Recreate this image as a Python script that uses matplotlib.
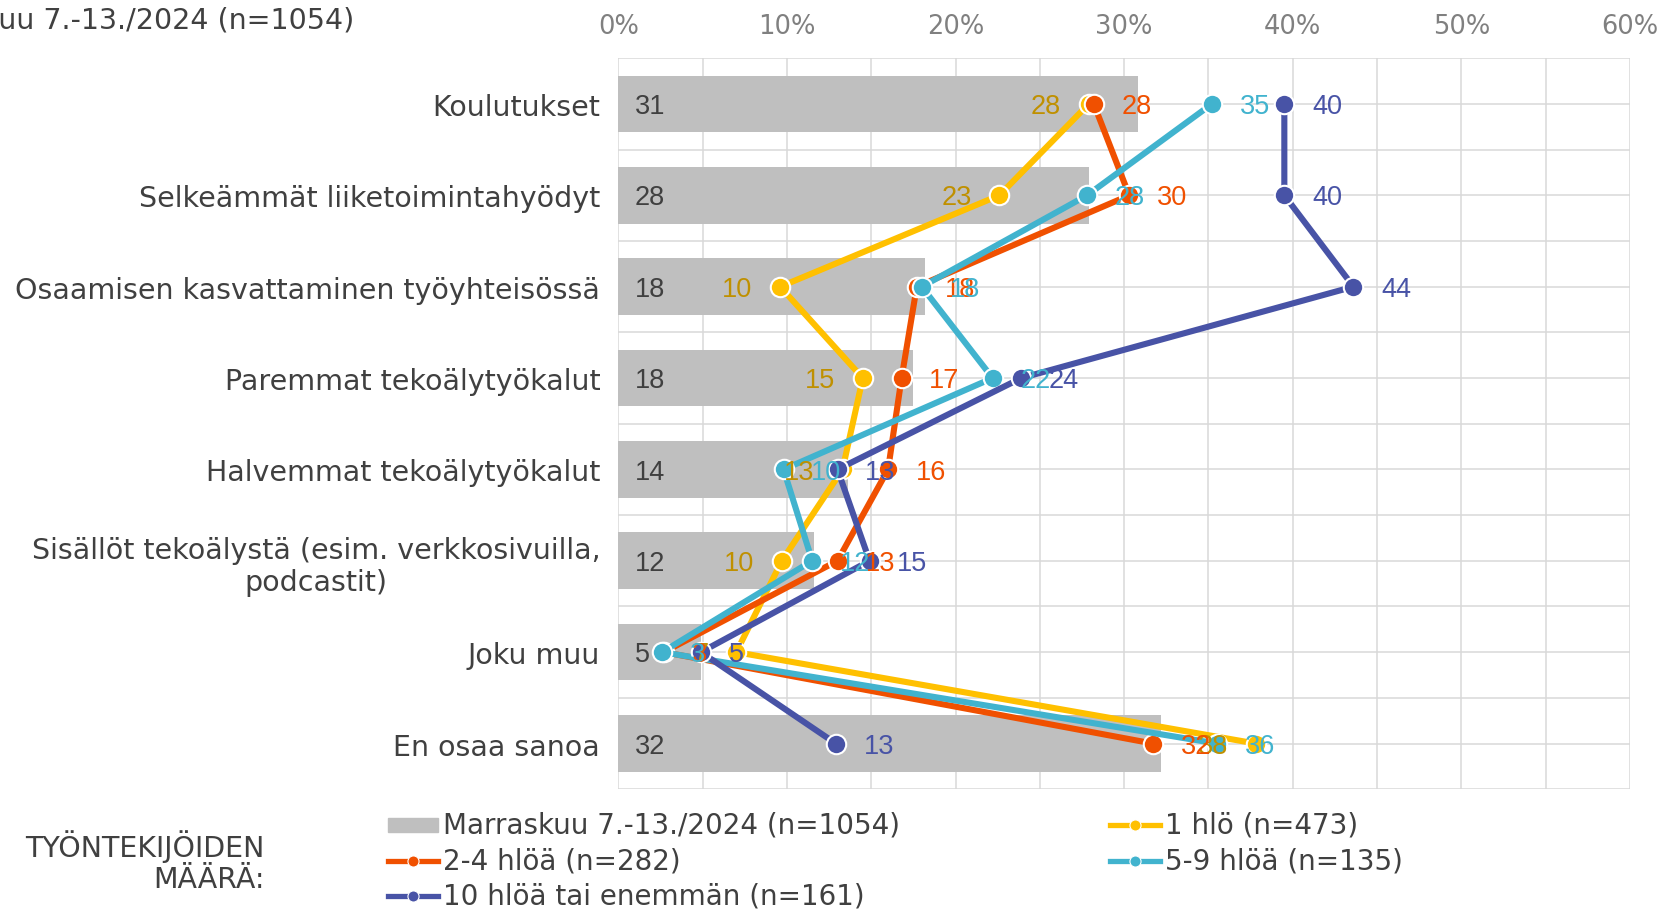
import numpy as np
import matplotlib
matplotlib.use("Agg")
import matplotlib.pyplot as plt
from matplotlib.lines import Line2D
from matplotlib.patches import Rectangle

categories = ["Koulutukset", "Selkeämmät liiketoimintahyödyt",
              "Osaamisen kasvattaminen työyhteisössä", "Paremmat tekoälytyökalut",
              "Halvemmat tekoälytyökalut",
              "Sisällöt tekoälystä (esim. verkkosivuilla,\npodcastit)",
              "Joku muu", "En osaa sanoa"]
total_label = "Marraskuu 7.-13./2024 (n=1054)"
total = [30.8, 27.9, 18.2, 17.5, 13.6, 11.6, 4.9, 32.2]
series_names = ["1 hlö (n=473)", "2-4 hlöä (n=282)", "5-9 hlöä (n=135)",
                "10 hlöä tai enemmän (n=161)"]
s1 = [27.9, 22.6, 9.6, 14.5, 13.3, 9.7, 7.0, 37.8]
s2_4 = [28.2, 30.3, 17.7, 16.8, 16.0, 13.0, 2.7, 31.7]
s5_9 = [35.2, 27.8, 18.0, 22.2, 9.8, 11.5, 2.6, 35.5]
s10 = [39.5, 39.5, 43.6, 23.9, 13.0, 14.9, 4.9, 12.9]
series = [s1, s2_4, s5_9, s10]
line_colors = ["#FFC000", "#F05000", "#41B3CE", "#4853A6"]
label_colors = ["#BF9000", "#F05000", "#41B3CE", "#4853A6"]
label_side = [-1, 1, 1, 1]
xticks = [0, 10, 20, 30, 40, 50, 60]

W, H = 1665, 912
fig = plt.figure(figsize=(W / 100, H / 100), dpi=100)
ax_l, ax_r, ax_t, ax_b = 618.3, 1630.0, 59.3, 790.2
ax = fig.add_axes([ax_l / W, 1 - ax_b / H, (ax_r - ax_l) / W, (ax_b - ax_t) / H])

y = np.arange(len(categories))
ax.barh(y, total, height=0.62, color="#BFBFBF", zorder=2)
for yi, v in zip(y, total):
    ax.annotate(f"{int(np.floor(v + 0.5))}", (0, yi), xytext=(12, -1.5),
                textcoords="offset points", ha="left", va="center",
                fontsize=19.5, family="Liberation Sans", color="#404040", zorder=6)

for vals, lc in zip(series, line_colors):
    ax.plot(vals, y, color=lc, lw=4.4, marker="o", ms=14, mfc=lc, mec="white",
            mew=1.5, zorder=3, solid_capstyle="round")
for vals, tc, side in zip(series, label_colors, label_side):
    for yi, v in zip(y, vals):
        ax.annotate(f"{int(np.floor(v + 0.5))}", (v, yi), xytext=(20 * side, -1.5),
                    textcoords="offset points", ha="left" if side > 0 else "right",
                    va="center", fontsize=19.5, family="Liberation Sans",
                    color=tc, zorder=7)

ax.set_xlim(0, 60)
ax.set_ylim(len(categories) - 0.5, -0.5)
ax.xaxis.tick_top()
ax.set_xticks(xticks)
ax.set_xticklabels([f"{t}%" for t in xticks])
ax.set_xticks(np.arange(0, 61, 5), minor=True)
ax.set_yticks(y)
ax.set_yticklabels(categories, multialignment="center")
ax.set_yticks(np.arange(-0.5, len(categories) + 0.5, 1), minor=True)
ax.tick_params(axis="x", which="both", length=0, pad=14, labelsize=18.5,
               labelcolor="#808080")
ax.tick_params(axis="y", which="both", length=0, pad=13, labelsize=20.5,
               labelcolor="#404040")
ax.grid(which="both", color="#D9D9D9", lw=1.1, zorder=0)
ax.set_axisbelow(True)
for sp in ax.spines.values():
    sp.set_visible(False)

fig.text(354 / W, 1 - 21 / H, total_label, ha="right", va="center",
         fontsize=20.5, color="#404040")

# legend
fig.text(265 / W, 1 - 862 / H, "TYÖNTEKIJÖIDEN\nMÄÄRÄ:", ha="right", va="center",
         fontsize=20.5, color="#404040", multialignment="right", linespacing=1.15)
entries = [("bar", "#BFBFBF", total_label, 388, 826),
           ("line", line_colors[0], series_names[0], 1110, 826),
           ("line", line_colors[1], series_names[1], 388, 862),
           ("line", line_colors[2], series_names[2], 1110, 862),
           ("line", line_colors[3], series_names[3], 388, 897)]
for kind, col, txt, x0, yc in entries:
    if kind == "bar":
        fig.patches.append(Rectangle((x0 / W, 1 - (yc + 7) / H), 50 / W, 14 / H,
                                     transform=fig.transFigure, color=col))
    else:
        fig.lines.append(Line2D([x0 / W, (x0 + 50) / W], [1 - yc / H, 1 - yc / H],
                                transform=fig.transFigure, color=col, lw=3.8))
        fig.lines.append(Line2D([(x0 + 25) / W], [1 - yc / H],
                                transform=fig.transFigure, color=col, lw=0,
                                marker="o", ms=8, mec="white", mew=0.8))
    fig.text((x0 + 55) / W, 1 - yc / H, txt, ha="left", va="center",
             fontsize=20, color="#404040")

fig.savefig("out.png", dpi=100)
